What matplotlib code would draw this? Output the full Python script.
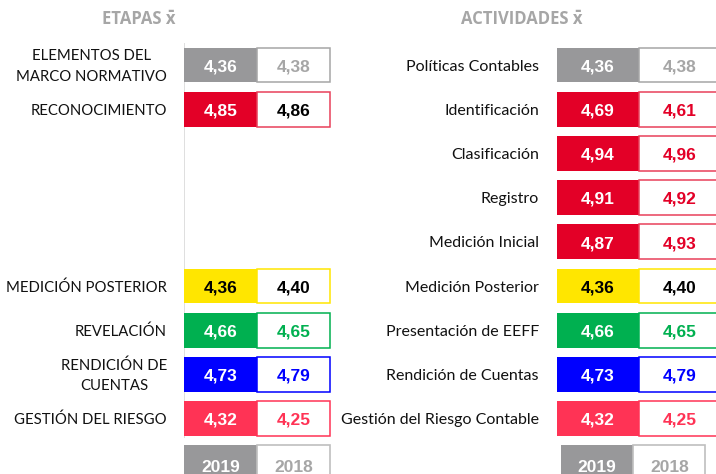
import matplotlib
matplotlib.use("Agg")
import matplotlib.pyplot as plt

plt.rcParams['font.family'] = ['Lato', 'DejaVu Sans']
NUMFONT = ['Liberation Sans', 'DejaVu Sans']
TITLEFONT = ['Open Sans', 'DejaVu Sans']

# ---- data ----
etapas_labels = ["ELEMENTOS DEL\nMARCO NORMATIVO", "RECONOCIMIENTO", None, None, None,
                 "MEDICIÓN POSTERIOR", "REVELACIÓN", "RENDICIÓN DE\nCUENTAS", "GESTIÓN DEL RIESGO"]
etapas_2019 = [4.36, 4.85, None, None, None, 4.36, 4.66, 4.73, 4.32]
etapas_2018 = [4.38, 4.86, None, None, None, 4.40, 4.65, 4.79, 4.25]

act_labels = ["Políticas Contables", "Identificación", "Clasificación", "Registro",
              "Medición Inicial", "Medición Posterior", "Presentación de EEFF",
              "Rendición de Cuentas", "Gestión del Riesgo Contable"]
act_2019 = [4.36, 4.69, 4.94, 4.91, 4.87, 4.36, 4.66, 4.73, 4.32]
act_2018 = [4.38, 4.61, 4.96, 4.92, 4.93, 4.40, 4.65, 4.79, 4.25]

years = ["2019", "2018"]
titles = ["ETAPAS x\u0304", "ACTIVIDADES x\u0304"]

# ---- styles ----
GRAY = "#98989a"
GRAY_T = "#a6a6a6"
RED = "#e30027"
RED_E = "#e8405a"
YEL = "#ffe600"
GRN = "#00b050"
BLU = "#0000ff"
PNK = "#ff3355"

left_fill = [GRAY, RED, None, None, None, YEL, GRN, BLU, PNK]
left_edge = [GRAY_T, RED_E, None, None, None, YEL, GRN, BLU, PNK]
left_t19 = ["white", "white", None, None, None, "black", "white", "white", "white"]
left_t18 = [GRAY_T, "black", None, None, None, "black", GRN, BLU, PNK]

right_fill = [GRAY, RED, RED, RED, RED, YEL, GRN, BLU, PNK]
right_edge = [GRAY_T, RED_E, RED_E, RED_E, RED_E, YEL, GRN, BLU, PNK]
right_t19 = ["white", "white", "white", "white", "white", "black", "white", "white", "white"]
right_t18 = [GRAY_T, RED, RED, RED, RED, "black", GRN, BLU, PNK]

W, H = 716, 474
fig = plt.figure(figsize=(W / 100, H / 100), dpi=100)
fig.patch.set_facecolor("white")

row0 = 65.0
step = 44.2
ytop = -row0 / step
ybot = (H - row0) / step
bar_h = 0.79
NUMW = "bold"
NUMS = 12.5


def fmt(v):
    return f"{v:.2f}".replace(".", ",")


def panel(x0px, cellpx, widthpx, labels, v19, v18, fills, edges, t19, t18,
          label_off, line_x, leg_left, leg_w, lab_size):
    ax = fig.add_axes([x0px / W, 0, widthpx / W, 1])
    ax.set_xlim(0, widthpx / cellpx)
    ax.set_ylim(ybot, ytop)
    ax.axis("off")
    ax.vlines(line_x, -0.5, 8.45, color="#d9d9d9", lw=1.2, zorder=0)
    for i, (lab, a, b) in enumerate(zip(labels, v19, v18)):
        if a is None:
            continue
        ax.barh(i, 1, left=0, height=bar_h, color=fills[i], edgecolor="none", zorder=2)
        ax.barh(i, 1, left=1, height=bar_h, color="white", edgecolor=edges[i],
                linewidth=1.1, zorder=2)
        ax.text(0.5, i + 0.04, fmt(a), ha="center", va="center", fontsize=NUMS,
                fontweight=NUMW, color=t19[i], zorder=3, family=NUMFONT)
        ax.text(1.5, i + 0.04, fmt(b), ha="center", va="center", fontsize=NUMS,
                fontweight=NUMW, color=t18[i], zorder=3, family=NUMFONT)
        ax.annotate(lab, xy=(0, i), xytext=(label_off, -1.5), textcoords="offset pixels",
                    ha="right", va="center", multialignment="center", linespacing=1.6,
                    fontsize=lab_size, color="#111111", annotation_clip=False)
    # year legend row
    ax.barh(9, leg_w, left=leg_left, height=bar_h, color=GRAY, edgecolor="none", zorder=2)
    ax.barh(9, leg_w, left=leg_left + leg_w, height=bar_h, color="white",
            edgecolor="#bfbfbf", linewidth=1.2, zorder=2)
    ax.text(leg_left + leg_w / 2, 9.1, years[0], ha="center", va="center",
            fontsize=NUMS, fontweight=NUMW, color="white", zorder=3, family=NUMFONT)
    ax.text(leg_left + 1.5 * leg_w, 9.1, years[1], ha="center", va="center",
            fontsize=NUMS, fontweight=NUMW, color=GRAY_T, zorder=3, family=NUMFONT)
    return ax


panel(184, 73, 150, etapas_labels, etapas_2019, etapas_2018,
      left_fill, left_edge, left_t19, left_t18, -17, 0.0, 0.0, 1.0, 10.7)
panel(557, 82, 159, act_labels, act_2019, act_2018,
      right_fill, right_edge, right_t19, right_t18, -18, -0.02, 0.05, 0.88, 11.5)

fig.text(139 / W, 1 - 19 / H, titles[0], ha="center", va="center", fontsize=12,
         fontweight="bold", color=GRAY_T, family=TITLEFONT)
fig.text(522 / W, 1 - 19 / H, titles[1], ha="center", va="center", fontsize=12,
         fontweight="bold", color=GRAY_T, family=TITLEFONT)

fig.savefig("out.png", dpi=100, facecolor="white")
